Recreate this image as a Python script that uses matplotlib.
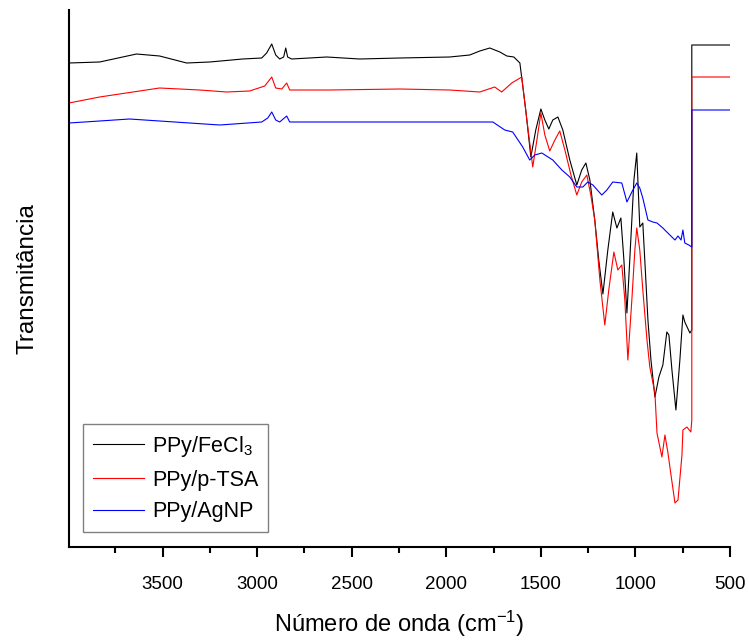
import matplotlib
matplotlib.use("Agg")
import matplotlib.pyplot as plt
from matplotlib.ticker import MultipleLocator

plt.rcParams['font.family'] = ['Liberation Sans', 'DejaVu Sans']
plt.rcParams['mathtext.fontset'] = 'custom'
plt.rcParams['mathtext.rm'] = 'Liberation Sans'
plt.rcParams['mathtext.it'] = 'Liberation Sans'
plt.rcParams['mathtext.bf'] = 'Liberation Sans'

# ---- data (wavenumber cm-1, transmittance in arbitrary units) ----
fecl3_x = [3995, 3995, 3833, 3638, 3516, 3373, 3251, 3077, 2976, 2950, 2923, 2902, 2881, 2860,
           2849, 2839, 2818, 2632, 2458, 2246, 1982, 1876, 1823, 1770, 1717, 1680, 1643, 1611,
           1580, 1553, 1527, 1500, 1479, 1458, 1437, 1410, 1384, 1347, 1310, 1284, 1262, 1241,
           1215, 1194, 1172, 1146, 1120, 1098, 1077, 1061, 1045, 1030, 1008, 993, 977, 961,
           945, 934, 918, 897, 876, 855, 834, 823, 807, 786, 765, 749, 739, 712, 702, 702, 500]
fecl3_y = [555, 537, 538, 546, 544, 537, 538, 541, 542, 547, 556, 545, 541, 543,
           552, 543, 541, 543, 541, 542, 543, 545, 549, 552, 548, 544, 543, 537,
           490, 443, 470, 491, 480, 471, 480, 483, 470, 440, 415, 430, 437, 420,
           380, 340, 306, 350, 388, 372, 382, 340, 287, 340, 420, 447, 373, 377,
           320, 280, 240, 203, 223, 235, 268, 265, 230, 190, 240, 285, 278, 267, 270, 555, 555]

ptsa_x = [3995, 3995, 3833, 3516, 3304, 3161, 3040, 2960, 2923, 2902, 2870, 2844, 2828, 2617,
          2246, 1982, 1823, 1744, 1707, 1654, 1601, 1574, 1543, 1521, 1500, 1479, 1453, 1426,
          1400, 1373, 1341, 1310, 1284, 1257, 1236, 1215, 1188, 1162, 1141, 1114, 1093, 1072,
          1056, 1040, 1019, 1003, 993, 977, 961, 939, 924, 897, 886, 860, 844, 828, 812, 791,
          775, 754, 749, 728, 707, 702, 702, 500]
ptsa_y = [523, 497, 503, 512, 510, 508, 509, 514, 523, 512, 511, 517, 510, 510,
          511, 510, 508, 513, 508, 517, 523, 480, 433, 460, 487, 465, 449, 460,
          469, 450, 425, 405, 418, 425, 405, 380, 320, 275, 310, 348, 330, 335,
          300, 240, 300, 350, 372, 350, 310, 260, 233, 207, 167, 143, 165, 147, 125, 97,
          100, 145, 170, 173, 168, 180, 523, 523]

agnp_x = [3995, 3995, 3833, 3675, 3516, 3198, 2976, 2944, 2923, 2902, 2881, 2844, 2828, 2352,
          1982, 1754, 1691, 1649, 1596, 1559, 1532, 1495, 1437, 1389, 1347, 1310, 1278, 1252,
          1225, 1178, 1151, 1120, 1072, 1045, 1019, 993, 977, 961, 934, 908, 886, 855, 834,
          818, 791, 775, 759, 749, 739, 718, 702, 702, 500]
agnp_y = [490, 477, 479, 481, 479, 475, 478, 482, 488, 480, 478, 484, 478, 478,
          478, 478, 470, 468, 453, 440, 445, 447, 440, 430, 423, 413, 413, 418,
          415, 405, 410, 418, 417, 398, 408, 417, 412, 402, 380, 378, 377, 372, 368,
          365, 360, 364, 360, 370, 357, 355, 353, 490, 490]

labels = ['PPy/FeCl$_3$', 'PPy/p-TSA', 'PPy/AgNP']
colors = ['#000000', '#ff0000', '#0000ff']

fig = plt.figure(figsize=(7.49, 6.42), dpi=100)
ax = fig.add_axes([69/749, 1-547/642, (730-69)/749, (547-10)/642])

for xs, ys, lab, c in zip([fecl3_x, ptsa_x, agnp_x], [fecl3_y, ptsa_y, agnp_y], labels, colors):
    ax.plot(xs, ys, color=c, lw=0.8, label=lab)

ax.set_xlim(3995, 500)
ax.set_ylim(53, 590)
ax.xaxis.set_major_locator(MultipleLocator(500))
ax.xaxis.set_minor_locator(MultipleLocator(250))
ax.set_yticks([])
for s in ['top', 'right']:
    ax.spines[s].set_visible(False)
for s in ['left', 'bottom']:
    ax.spines[s].set_linewidth(1.5)
ax.tick_params(axis='x', which='major', direction='out', length=7, width=1.5,
               labelsize=13.5, pad=14)
ax.tick_params(axis='x', which='minor', direction='out', length=4.5, width=1.5)

ax.set_xlabel('Número de onda (cm$^{-1}$)', fontsize=17, labelpad=11)
ax.set_ylabel('Transmitância', fontsize=17.5, labelpad=22)

leg = ax.legend(loc='lower left', bbox_to_anchor=(14/661, 15/537), borderaxespad=0,
                fontsize=15.5, frameon=True, fancybox=False, framealpha=1,
                edgecolor='#808080', handlelength=2.4, handletextpad=0.35,
                labelspacing=0.5, borderpad=0.45)
leg.get_frame().set_linewidth(1.0)

fig.savefig('out.png', dpi=100)
